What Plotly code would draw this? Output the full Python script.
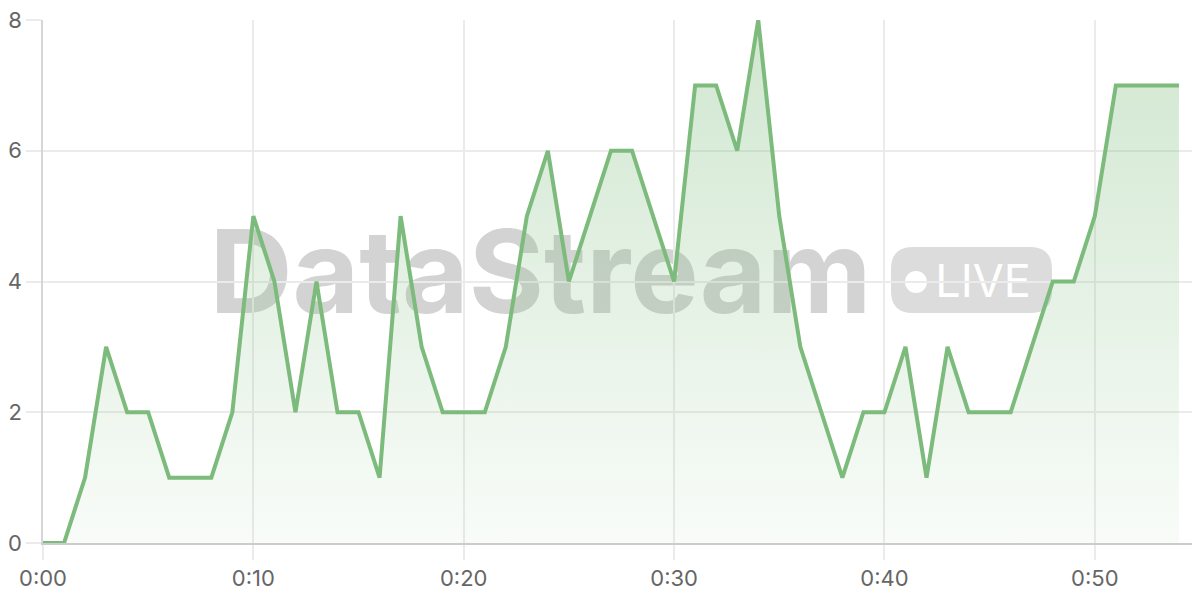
import plotly.graph_objects as go

# viewers per minute over the first hour of the stream
minutes = list(range(55))
viewers = [0, 0, 1, 3, 2, 2, 1, 1, 1, 2,
           5, 4, 2, 4, 2, 2, 1, 5, 3, 2,
           2, 2, 3, 5, 6, 4, 5, 6, 6, 5,
           4, 7, 7, 6, 8, 5, 3, 2, 1, 2,
           2, 3, 1, 3, 2, 2, 2, 3, 4, 4,
           5, 7, 7, 7, 7]

x_tickvals = [0, 10, 20, 30, 40, 50]
x_ticktext = ['0:00', '0:10', '0:20', '0:30', '0:40', '0:50']
y_tickvals = [0, 2, 4, 6, 8]

LINE = '#7cbb7c'
GRID = '#ebebeb'
FONT = 'Inter'

fig = go.Figure()

fig.add_trace(go.Scatter(
    x=minutes, y=viewers,
    mode='lines',
    line=dict(color=LINE, width=4),
    fill='tozeroy',
    fillgradient=dict(type='vertical', start=0, stop=8,
                      colorscale=[[0, 'rgba(124,187,124,0.05)'],
                                  [1, 'rgba(124,187,124,0.36)']]),
    showlegend=False,
    hoverinfo='skip'
))

# watermark, drawn under the grid
pill = ('M -58.5,-33 L 58.5,-33 Q 80.5,-33 80.5,-11 L 80.5,11 Q 80.5,33 58.5,33 '
        'L -58.5,33 Q -80.5,33 -80.5,11 L -80.5,-11 Q -80.5,-33 -58.5,-33 Z')
shapes = [
    dict(type='rect', xref='paper', yref='paper', x0=0.2, x1=0.66, y0=0.406, y1=0.646,
         line=dict(width=0), fillcolor='rgba(0,0,0,0)', layer='below',
         label=dict(text='DataStream', textposition='middle center',
                    font=dict(family=FONT, size=115, color='#d3d3d3', weight='bold'))),
    dict(type='path', xref='paper', yref='paper', xsizemode='pixel', ysizemode='pixel',
         xanchor=0.8025, yanchor=0.5029, path=pill,
         line=dict(width=0), fillcolor='#dcdcdc', layer='below'),
    dict(type='circle', xref='paper', yref='paper', xsizemode='pixel', ysizemode='pixel',
         xanchor=0.7545, yanchor=0.499, x0=-11, x1=11, y0=-11, y1=11,
         line=dict(width=0), fillcolor='white', layer='below'),
    dict(type='rect', xref='paper', yref='paper', x0=0.78, x1=0.845, y0=0.47, y1=0.5376,
         line=dict(width=0), fillcolor='rgba(0,0,0,0)', layer='below',
         label=dict(text='LIVE', textposition='middle center',
                    font=dict(family=FONT, size=45, color='white'))),
]

# the page puts the figure 8px in from the corner, size and margins make up for it
fig.update_layout(
    width=1192, height=592,
    margin=dict(l=35, r=0, t=12, b=57),
    paper_bgcolor='white', plot_bgcolor='white',
    font=dict(family=FONT, size=22, color='#666666'),
    shapes=shapes,
    xaxis=dict(range=[0, 55], tickvals=x_tickvals, ticktext=x_ticktext,
               showgrid=True, gridcolor=GRID, gridwidth=1.5,
               ticks='outside', ticklen=15, tickcolor=GRID, tickwidth=1.5,
               showline=True, linecolor='#cccccc', linewidth=1.5,
               zeroline=False, fixedrange=True, automargin=False,
               ticklabeloverflow='allow'),
    yaxis=dict(range=[0, 8], tickvals=y_tickvals,
               showgrid=True, gridcolor=GRID, gridwidth=1.5,
               ticks='outside', ticklen=15, tickcolor=GRID, tickwidth=1.5,
               showline=True, linecolor='#d6d6d6', linewidth=1.5,
               zeroline=False, fixedrange=True, automargin=False,
               ticklabeloverflow='allow'),
)

fig.write_html("out.html")
